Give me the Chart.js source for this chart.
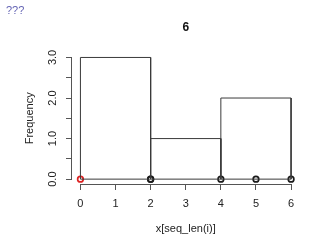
<!DOCTYPE html>
<html>
<head>
<meta charset="utf-8">
<script src="https://cdn.jsdelivr.net/npm/chart.js@4"></script>
<style>
  html, body { margin: 0; padding: 0; background: #fff; }
  #wrap { width: 320px; height: 240px; }
</style>
</head>
<body>
<div id="wrap"><canvas id="grafico"></canvas></div>
<script>
// datos del histograma
const breaks = [0, 2, 4, 6];
const counts = [3, 1, 2];
const xValues = [2, 4, 5, 6, 2, 0];   // el ultimo se marca en rojo
const xTicks = [0, 1, 2, 3, 4, 5, 6];
const yTicks = [0, 0.5, 1, 1.5, 2, 2.5, 3];
const titulo = '6';
const marca = '???';

const fuente = '"Liberation Sans", Arial, Helvetica, sans-serif';
const gris = '#555';

// un contorno cerrado por cada barra
const barras = counts.map((c, i) => ({
    type: 'line',
    data: [
        { x: breaks[i], y: 0 },
        { x: breaks[i], y: c },
        { x: breaks[i + 1], y: c },
        { x: breaks[i + 1], y: 0 },
        { x: breaks[i], y: 0 }
    ],
    borderColor: '#3a3a3a',
    borderWidth: 1,
    pointRadius: 0,
    tension: 0,
    fill: false,
    clip: false
}));

const puntos = {
    type: 'scatter',
    data: xValues.map(v => ({ x: v, y: 0 })),
    pointRadius: 2.8,
    pointBorderWidth: 1.7,
    pointBackgroundColor: 'rgba(0,0,0,0)',
    pointBorderColor: xValues.map((v, i) => i === xValues.length - 1 ? '#dd2222' : '#1a1a1a'),
    clip: false
};

// ejes al estilo R: linea solo entre el primer y el ultimo tick, y textos
const ejesR = {
    id: 'ejesR',
    afterDraw(chart) {
        const ctx = chart.ctx;
        const sx = chart.scales.x, sy = chart.scales.y;
        const a = chart.chartArea;
        ctx.save();
        ctx.strokeStyle = gris;
        ctx.lineWidth = 1;
        ctx.beginPath();
        ctx.moveTo(sx.getPixelForValue(xTicks[0]), a.bottom + 0.5);
        ctx.lineTo(sx.getPixelForValue(xTicks[xTicks.length - 1]), a.bottom + 0.5);
        ctx.moveTo(a.left - 0.5, sy.getPixelForValue(yTicks[0]));
        ctx.lineTo(a.left - 0.5, sy.getPixelForValue(yTicks[yTicks.length - 1]));
        ctx.stroke();

        ctx.fillStyle = '#111';
        ctx.font = 'bold 12px ' + fuente;
        ctx.textAlign = 'center';
        ctx.textBaseline = 'middle';
        ctx.fillText(titulo, (a.left + a.right) / 2, 28);

        ctx.fillStyle = '#6464b4';
        ctx.font = '11px ' + fuente;
        ctx.textAlign = 'left';
        ctx.fillText(marca, 6, 11);
        ctx.restore();
    }
};

new Chart(document.getElementById('grafico'), {
    data: { datasets: [...barras, puntos] },
    plugins: [ejesR],
    options: {
        responsive: true,
        maintainAspectRatio: false,
        animation: false,
        layout: { padding: { top: 52.6, right: 20.5, bottom: 0, left: 0 } },
        plugins: {
            legend: { display: false },
            tooltip: { enabled: false }
        },
        scales: {
            x: {
                type: 'linear',
                min: -0.24,
                max: 6.24,
                afterBuildTicks: s => { s.ticks = xTicks.map(v => ({ value: v })); },
                afterFit: s => { s.height = 56; },
                grid: { drawOnChartArea: false, tickLength: 6, color: gris },
                border: { display: false },
                ticks: {
                    color: '#222',
                    padding: 7,
                    maxRotation: 0,
                    font: { family: fuente, size: 11 }
                },
                title: {
                    display: true,
                    text: 'x[seq_len(i)]',
                    color: '#222',
                    font: { family: fuente, size: 11 },
                    padding: { top: 0, bottom: 4 }
                }
            },
            y: {
                type: 'linear',
                min: -0.12,
                max: 3.12,
                afterBuildTicks: s => { s.ticks = yTicks.map(v => ({ value: v })); },
                afterFit: s => { s.width = 72; },
                grid: { drawOnChartArea: false, tickLength: 6, color: gris },
                border: { display: false },
                ticks: {
                    color: '#222',
                    padding: 5,
                    minRotation: 90,
                    maxRotation: 90,
                    crossAlign: 'center',
                    font: { family: fuente, size: 11 },
                    callback: v => Number.isInteger(v) ? v.toFixed(1) : ''
                },
                title: {
                    display: true,
                    text: 'Frequency',
                    color: '#222',
                    font: { family: fuente, size: 11 },
                    padding: { top: 23, bottom: 0 }
                }
            }
        }
    }
});
</script>
</body>
</html>
